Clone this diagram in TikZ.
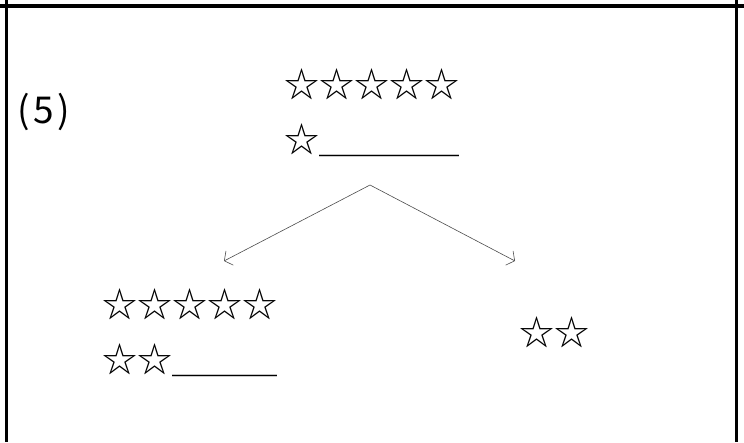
\documentclass[tikz,border=0pt]{standalone}
\usepackage{fontspec}
\newfontfamily\jpfont{Noto Sans CJK JP}
\usetikzlibrary{arrows.meta}
\tikzset{
  quiz/frame/.style = {line width=3.2pt, draw=black},
  quiz/stars/.style = {font=\jpfont\fontsize{35}{35}\selectfont, inner sep=0pt, anchor=base west},
  quiz/num/.style   = {font=\jpfont\fontsize{37}{37}\selectfont, inner sep=0pt, anchor=west},
  quiz/arrow/.style = {-{Straight Barb[length=6pt,width=16pt]}, line width=0.6pt, draw=black!70},
}
\begin{document}
\begin{tikzpicture}[x=1pt,y=-1pt]
  \useasboundingbox (0,0) rectangle (744,442);
  % table cell
  \draw[quiz/frame] (0,6) -- (744,6);
  \draw[quiz/frame] (6.5,0) -- (6.5,442);
  \draw[quiz/frame] (736.5,0) -- (736.5,442);
  % problem number
  \node[quiz/num] (num) at (17,112) {(\kern3.5pt5\kern3.5pt)};
  % starting set
  \node[quiz/stars] (whole)  at (284,97.5) {☆☆☆☆☆};
  \node[quiz/stars] (wholeb) at (284,152.5) {☆＿＿＿＿};
  % split
  \coordinate (split) at (370,185);
  \coordinate (leftEnd) at (224,261);
  \coordinate (rightEnd) at (515,261);
  \draw[quiz/arrow] (split) -- (leftEnd);
  \draw[quiz/arrow] (split) -- (rightEnd);
  % parts
  \node[quiz/stars] (partA)  at (102,317.5) {☆☆☆☆☆};
  \node[quiz/stars] (partAb) at (102,372) {☆☆＿＿＿};
  \node[quiz/stars] (partB)  at (519,345.5) {☆☆};
\end{tikzpicture}
\end{document}
